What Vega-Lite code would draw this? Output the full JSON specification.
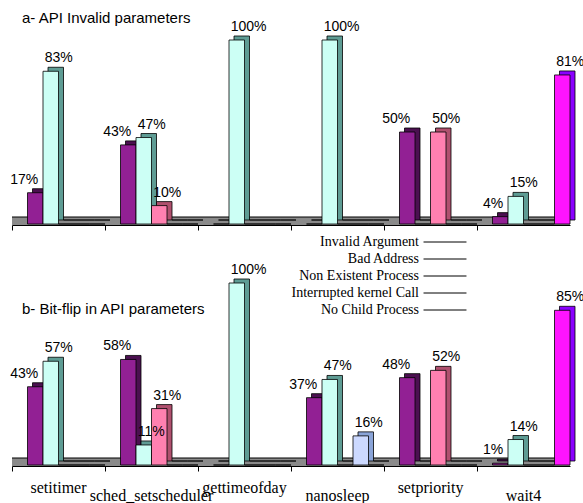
{
  "$schema": "https://vega.github.io/schema/vega-lite/v6.json",
  "padding": {"left": 10, "top": 11, "right": 0, "bottom": 0},
  "bounds": "flush",
  "spacing": 59,
  "config": {
    "view": {"stroke": null},
    "font": "Liberation Sans",
    "legend": {
      "padding": 0,
      "symbolType": "M-3,0H3",
      "symbolSize": 205,
      "symbolStrokeColor": "black",
      "symbolStrokeWidth": 1,
      "labelAlign": "right",
      "labelOffset": -34,
      "labelFont": "Liberation Serif",
      "labelFontSize": 14,
      "labelColor": "black",
      "labelBaseline": "middle",
      "rowPadding": 2,
      "labelLimit": 300
    }
  },
  "datasets": {
    "a": [
      {"call": "setitimer", "series": "Invalid Argument", "value": 17},
      {"call": "setitimer", "series": "Bad Address", "value": 83},
      {"call": "setitimer", "series": "Non Existent Process", "value": 0},
      {"call": "setitimer", "series": "Interrupted kernel Call", "value": 0},
      {"call": "setitimer", "series": "No Child Process", "value": 0},
      {"call": "sched_setscheduler", "series": "Invalid Argument", "value": 43},
      {"call": "sched_setscheduler", "series": "Bad Address", "value": 47},
      {"call": "sched_setscheduler", "series": "Non Existent Process", "value": 10},
      {"call": "sched_setscheduler", "series": "Interrupted kernel Call", "value": 0},
      {"call": "sched_setscheduler", "series": "No Child Process", "value": 0},
      {"call": "gettimeofday", "series": "Invalid Argument", "value": 0},
      {"call": "gettimeofday", "series": "Bad Address", "value": 100},
      {"call": "gettimeofday", "series": "Non Existent Process", "value": 0},
      {"call": "gettimeofday", "series": "Interrupted kernel Call", "value": 0},
      {"call": "gettimeofday", "series": "No Child Process", "value": 0},
      {"call": "nanosleep", "series": "Invalid Argument", "value": 0},
      {"call": "nanosleep", "series": "Bad Address", "value": 100},
      {"call": "nanosleep", "series": "Non Existent Process", "value": 0},
      {"call": "nanosleep", "series": "Interrupted kernel Call", "value": 0},
      {"call": "nanosleep", "series": "No Child Process", "value": 0},
      {"call": "setpriority", "series": "Invalid Argument", "value": 50},
      {"call": "setpriority", "series": "Bad Address", "value": 0},
      {"call": "setpriority", "series": "Non Existent Process", "value": 50},
      {"call": "setpriority", "series": "Interrupted kernel Call", "value": 0},
      {"call": "setpriority", "series": "No Child Process", "value": 0},
      {"call": "wait4", "series": "Invalid Argument", "value": 4},
      {"call": "wait4", "series": "Bad Address", "value": 15},
      {"call": "wait4", "series": "Non Existent Process", "value": 0},
      {"call": "wait4", "series": "Interrupted kernel Call", "value": 0},
      {"call": "wait4", "series": "No Child Process", "value": 81}
    ],
    "b": [
      {"call": "setitimer", "series": "Invalid Argument", "value": 43},
      {"call": "setitimer", "series": "Bad Address", "value": 57},
      {"call": "setitimer", "series": "Non Existent Process", "value": 0},
      {"call": "setitimer", "series": "Interrupted kernel Call", "value": 0},
      {"call": "setitimer", "series": "No Child Process", "value": 0},
      {"call": "sched_setscheduler", "series": "Invalid Argument", "value": 58},
      {"call": "sched_setscheduler", "series": "Bad Address", "value": 11},
      {"call": "sched_setscheduler", "series": "Non Existent Process", "value": 31},
      {"call": "sched_setscheduler", "series": "Interrupted kernel Call", "value": 0},
      {"call": "sched_setscheduler", "series": "No Child Process", "value": 0},
      {"call": "gettimeofday", "series": "Invalid Argument", "value": 0},
      {"call": "gettimeofday", "series": "Bad Address", "value": 100},
      {"call": "gettimeofday", "series": "Non Existent Process", "value": 0},
      {"call": "gettimeofday", "series": "Interrupted kernel Call", "value": 0},
      {"call": "gettimeofday", "series": "No Child Process", "value": 0},
      {"call": "nanosleep", "series": "Invalid Argument", "value": 37},
      {"call": "nanosleep", "series": "Bad Address", "value": 47},
      {"call": "nanosleep", "series": "Non Existent Process", "value": 0},
      {"call": "nanosleep", "series": "Interrupted kernel Call", "value": 16},
      {"call": "nanosleep", "series": "No Child Process", "value": 0},
      {"call": "setpriority", "series": "Invalid Argument", "value": 48},
      {"call": "setpriority", "series": "Bad Address", "value": 0},
      {"call": "setpriority", "series": "Non Existent Process", "value": 52},
      {"call": "setpriority", "series": "Interrupted kernel Call", "value": 0},
      {"call": "setpriority", "series": "No Child Process", "value": 0},
      {"call": "wait4", "series": "Invalid Argument", "value": 1},
      {"call": "wait4", "series": "Bad Address", "value": 14},
      {"call": "wait4", "series": "Non Existent Process", "value": 0},
      {"call": "wait4", "series": "Interrupted kernel Call", "value": 0},
      {"call": "wait4", "series": "No Child Process", "value": 85}
    ]
  },
  "vconcat": [
    {
      "width": 558,
      "height": 184,
      "title": {"text": "a- API Invalid parameters", "anchor": "start", "frame": "group", "fontSize": 15, "fontWeight": "normal", "font": "Liberation Sans", "color": "black", "offset": 0, "baseline": "bottom", "dx": 10, "dy": 21},
      "data": {"name": "a"},
      "transform": [{"calculate": "datum.call + '/' + datum.series", "as": "slot"}],
      "resolve": {"scale": {"x": "independent"}},
      "layer": [
        {"mark": {"type": "bar", "color": "#8a8a8a", "yOffset": -7, "y2Offset": 1},
         "encoding": {
           "x": {"field": "call", "type": "nominal", "sort": ["setitimer", "sched_setscheduler", "gettimeofday", "nanosleep", "setpriority", "wait4"], "scale": {"paddingInner": 0, "paddingOuter": 0}, "axis": {"title": null, "labels": false, "bandPosition": 0, "tickSize": 5, "tickColor": "black", "domainColor": "black", "offset": 1, "grid": false}},
           "y": {"datum": 0, "type": "quantitative", "axis": null},
           "y2": {"datum": 0}
         }},
        {"data": {"values": [{}]}, "mark": {"type": "rule", "color": "black", "strokeWidth": 1, "yOffset": -7}, "encoding": {"y": {"datum": 0, "type": "quantitative", "axis": null}}},
        {
          "encoding": {
            "x": {"field": "slot", "type": "nominal", "axis": null, "scale": {"paddingInner": 0, "paddingOuter": 0, "domain": ["gap1", "setitimer/Invalid Argument", "setitimer/Bad Address", "setitimer/Non Existent Process", "setitimer/Interrupted kernel Call", "setitimer/No Child Process", "gap2", "sched_setscheduler/Invalid Argument", "sched_setscheduler/Bad Address", "sched_setscheduler/Non Existent Process", "sched_setscheduler/Interrupted kernel Call", "sched_setscheduler/No Child Process", "gap3", "gettimeofday/Invalid Argument", "gettimeofday/Bad Address", "gettimeofday/Non Existent Process", "gettimeofday/Interrupted kernel Call", "gettimeofday/No Child Process", "gap4", "nanosleep/Invalid Argument", "nanosleep/Bad Address", "nanosleep/Non Existent Process", "nanosleep/Interrupted kernel Call", "nanosleep/No Child Process", "gap5", "setpriority/Invalid Argument", "setpriority/Bad Address", "setpriority/Non Existent Process", "setpriority/Interrupted kernel Call", "setpriority/No Child Process", "gap6", "wait4/Invalid Argument", "wait4/Bad Address", "wait4/Non Existent Process", "wait4/Interrupted kernel Call", "wait4/No Child Process"]}},
            "y": {"field": "value", "type": "quantitative", "scale": {"domain": [0, 100], "nice": false}, "axis": null}
          },
          "layer": [
            {"mark": {"type": "bar", "xOffset": 5, "yOffset": -4, "stroke": "black", "strokeWidth": 0.8},
             "encoding": {
               "fill": {"field": "series", "type": "nominal", "legend": null, "scale": {"domain": ["No Child Process", "Interrupted kernel Call", "Non Existent Process", "Bad Address", "Invalid Argument"], "range": ["#8a00ff", "#8aa4d8", "#b0506e", "#5e9c94", "#4b1050"]}}
             }},
            {"mark": {"type": "bar", "stroke": "black", "strokeWidth": 0.8},
             "encoding": {
               "color": {"field": "series", "type": "nominal", "title": null, "scale": {"domain": ["Invalid Argument", "Bad Address", "Non Existent Process", "Interrupted kernel Call", "No Child Process"], "range": ["#922094", "#ccfff5", "#ff80b0", "#ccd9ff", "#ff14ff"]}, "legend": {"orient": "none", "legendX": 425, "legendY": 194, "title": null}}
             }},
            {"transform": [{"filter": "datum.series == 'Invalid Argument' && datum.value > 0"}],
             "mark": {"type": "text", "align": "right", "baseline": "bottom", "dx": 3, "dy": -6, "fontSize": 14, "font": "Liberation Sans", "color": "black", "text": {"expr": "datum.value + '%'"}}},
            {"transform": [{"filter": "datum.series != 'Invalid Argument' && datum.value > 0"}],
             "mark": {"type": "text", "align": "left", "baseline": "bottom", "dx": -6, "dy": -6, "fontSize": 14, "font": "Liberation Sans", "color": "black", "text": {"expr": "datum.value + '%'"}}}
          ]
        }
      ]
    },
    {
      "width": 558,
      "height": 182,
      "title": {"text": "b- Bit-flip in API parameters", "anchor": "start", "frame": "group", "fontSize": 15, "fontWeight": "normal", "font": "Liberation Sans", "color": "black", "offset": 0, "baseline": "bottom", "dx": 10, "dy": 69},
      "data": {"name": "b"},
      "transform": [{"calculate": "datum.call + '/' + datum.series", "as": "slot"}],
      "resolve": {"scale": {"x": "independent"}},
      "layer": [
        {"mark": {"type": "bar", "color": "#8a8a8a", "yOffset": -7, "y2Offset": 1},
         "encoding": {
           "x": {"field": "call", "type": "nominal", "sort": ["setitimer", "sched_setscheduler", "gettimeofday", "nanosleep", "setpriority", "wait4"], "scale": {"paddingInner": 0, "paddingOuter": 0}, "axis": {"title": null, "bandPosition": 0, "tickSize": 5, "tickColor": "black", "domainColor": "black", "offset": 1, "grid": false, "labelAngle": 0, "labelFont": "Liberation Serif", "labelFontSize": 16, "labelColor": "black", "labelOverlap": false, "labelBound": false, "labelFlush": false, "labelBaseline": "top", "labelPadding": {"condition": {"test": "indexof(['sched_setscheduler','nanosleep','wait4'], datum.value) >= 0", "value": 16}, "value": 8}}},
           "y": {"datum": 0, "type": "quantitative", "axis": null},
           "y2": {"datum": 0}
         }},
        {"data": {"values": [{}]}, "mark": {"type": "rule", "color": "black", "strokeWidth": 1, "yOffset": -7}, "encoding": {"y": {"datum": 0, "type": "quantitative", "axis": null}}},
        {
          "encoding": {
            "x": {"field": "slot", "type": "nominal", "axis": null, "scale": {"paddingInner": 0, "paddingOuter": 0, "domain": ["gap1", "setitimer/Invalid Argument", "setitimer/Bad Address", "setitimer/Non Existent Process", "setitimer/Interrupted kernel Call", "setitimer/No Child Process", "gap2", "sched_setscheduler/Invalid Argument", "sched_setscheduler/Bad Address", "sched_setscheduler/Non Existent Process", "sched_setscheduler/Interrupted kernel Call", "sched_setscheduler/No Child Process", "gap3", "gettimeofday/Invalid Argument", "gettimeofday/Bad Address", "gettimeofday/Non Existent Process", "gettimeofday/Interrupted kernel Call", "gettimeofday/No Child Process", "gap4", "nanosleep/Invalid Argument", "nanosleep/Bad Address", "nanosleep/Non Existent Process", "nanosleep/Interrupted kernel Call", "nanosleep/No Child Process", "gap5", "setpriority/Invalid Argument", "setpriority/Bad Address", "setpriority/Non Existent Process", "setpriority/Interrupted kernel Call", "setpriority/No Child Process", "gap6", "wait4/Invalid Argument", "wait4/Bad Address", "wait4/Non Existent Process", "wait4/Interrupted kernel Call", "wait4/No Child Process"]}},
            "y": {"field": "value", "type": "quantitative", "scale": {"domain": [0, 100], "nice": false}, "axis": null}
          },
          "layer": [
            {"mark": {"type": "bar", "xOffset": 5, "yOffset": -4, "stroke": "black", "strokeWidth": 0.8},
             "encoding": {
               "fill": {"field": "series", "type": "nominal", "legend": null, "scale": {"domain": ["No Child Process", "Interrupted kernel Call", "Non Existent Process", "Bad Address", "Invalid Argument"], "range": ["#8a00ff", "#8aa4d8", "#b0506e", "#5e9c94", "#4b1050"]}}
             }},
            {"mark": {"type": "bar", "stroke": "black", "strokeWidth": 0.8},
             "encoding": {
               "color": {"field": "series", "type": "nominal", "title": null, "scale": {"domain": ["Invalid Argument", "Bad Address", "Non Existent Process", "Interrupted kernel Call", "No Child Process"], "range": ["#922094", "#ccfff5", "#ff80b0", "#ccd9ff", "#ff14ff"]}, "legend": {"orient": "none", "legendX": 425, "legendY": 194, "title": null}}
             }},
            {"transform": [{"filter": "datum.series == 'Invalid Argument' && datum.value > 0"}],
             "mark": {"type": "text", "align": "right", "baseline": "bottom", "dx": 3, "dy": -6, "fontSize": 14, "font": "Liberation Sans", "color": "black", "text": {"expr": "datum.value + '%'"}}},
            {"transform": [{"filter": "datum.series != 'Invalid Argument' && datum.value > 0"}],
             "mark": {"type": "text", "align": "left", "baseline": "bottom", "dx": -6, "dy": -6, "fontSize": 14, "font": "Liberation Sans", "color": "black", "text": {"expr": "datum.value + '%'"}}}
          ]
        }
      ]
    }
  ]
}
